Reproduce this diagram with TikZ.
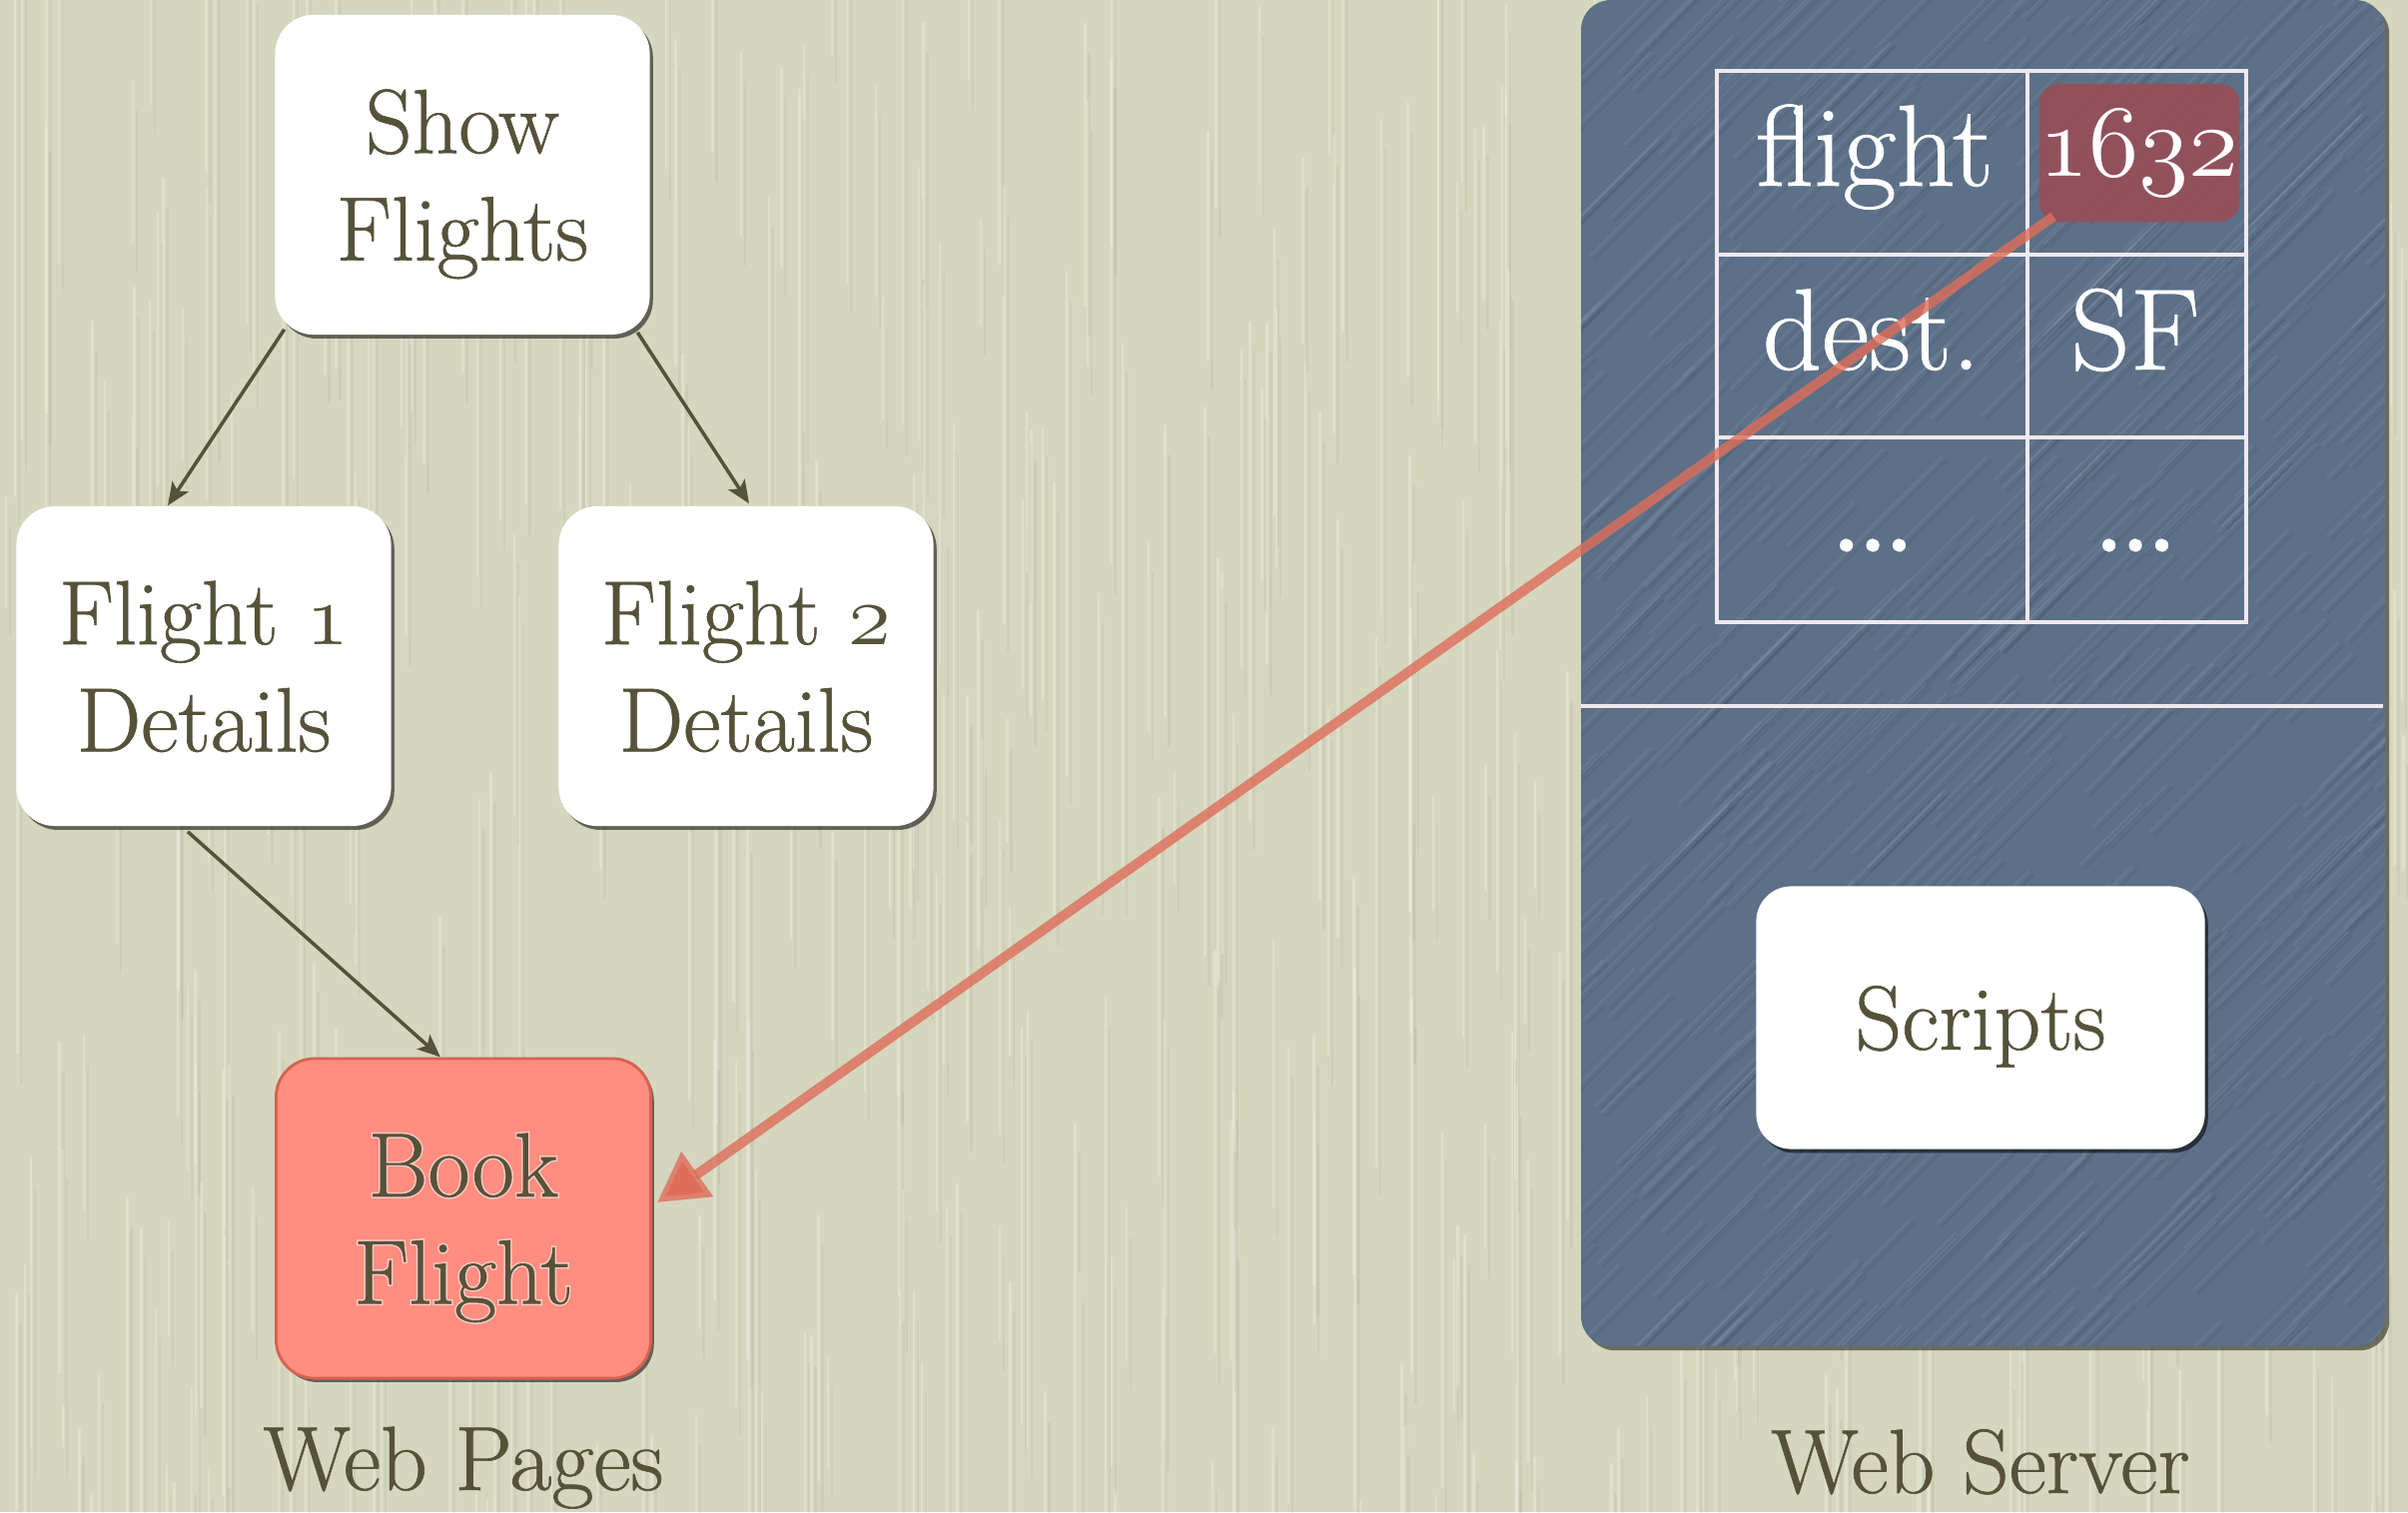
\documentclass[tikz,border=0pt]{standalone}
\usepackage{fontspec}
\setmainfont{Latin Modern Roman}[FakeBold=0.7]
\usetikzlibrary{arrows.meta,shadows}

\definecolor{paper}{RGB}{213,214,190}
\definecolor{ink}{RGB}{86,82,58}
\definecolor{slate}{RGB}{92,112,136}
\definecolor{salmon}{RGB}{255,141,128}
\definecolor{salmonedge}{RGB}{214,98,80}
\definecolor{cellred}{RGB}{150,78,88}
\definecolor{linkred}{RGB}{222,110,90}
\definecolor{gridline}{RGB}{240,232,238}

% old-style figures taken from the Latin Modern math italic font
\newcommand\osnum[1]{{\usefont{OML}{lmm}{m}{it}#1}}
% three wide, round dots for the elided table rows
\newcommand\moredots{{\fontsize{42}{42}\selectfont.\kern-3pt.\kern-3pt.}}

\tikzset{
  pagebox/.style={fill=white, rounded corners=11pt, align=center, text=ink,
    minimum width=3.75cm, minimum height=3.2cm, inner sep=0pt, text depth=0pt,
    font=\fontsize{26}{30.5}\selectfont,
    drop shadow={shadow xshift=0.9pt, shadow yshift=-1.1pt, opacity=0.55, fill=black}},
  glow/.style={align=center, inner sep=0pt, text depth=0pt, text=white, text opacity=0.55,
    font=\fontsize{26}{30.5}\selectfont\addfontfeatures{FakeBold=4}},
  groupname/.style={text=ink, inner sep=0pt, font=\fontsize{26}{30.5}\selectfont},
  cell/.style={text=white, inner sep=0pt, font=\fontsize{33}{38}\selectfont},
  hilite/.style={fill=cellred, fill opacity=0.9, text opacity=1, text=white,
    rounded corners=5.5pt, minimum width=1.94cm, minimum height=1.38cm,
    inner sep=0pt, font=\fontsize{24}{28}\selectfont},
  tree/.style={draw=ink, line width=1pt, -{Stealth[length=6.5pt,width=5.5pt,inset=1.5pt]}},
  link/.style={draw=linkred, draw opacity=0.8, line width=2.8pt,
    -{Triangle[length=14pt,width=15pt]}},
  fibre/.style={line width=0.7pt, line cap=round},
}

\begin{document}
\begin{tikzpicture}[x=0.01cm,y=-0.01cm]
\useasboundingbox (0,0) rectangle (2411,1514);
\fill[paper] (0,0) rectangle (2411,1514);

% paper grain: faint vertical fibres
\pgfmathsetseed{42}
\foreach \k in {1,...,420}{
  \pgfmathsetmacro\fx{rnd*2411}
  \pgfmathsetmacro\fy{rnd*1700-150}
  \pgfmathsetmacro\fl{100+rnd*450}
  \draw[fibre, white, opacity=0.22] (\fx,\fy) -- ++(0,\fl);
  \draw[fibre, black, opacity=0.035] (\fx+4,\fy+30) -- ++(0,\fl);
}

% server panel
\path[fill=slate, rounded corners=8.5pt,
  drop shadow={shadow xshift=1.2pt, shadow yshift=-1.2pt, opacity=0.5, fill=black}]
  (1583,0) rectangle (2388,1348);
\begin{scope}
  \clip[rounded corners=8.5pt] (1583,0) rectangle (2388,1348);
  \foreach \k in {1,...,600}{
    \pgfmathsetmacro\gx{1480+rnd*1000}
    \pgfmathsetmacro\gy{rnd*1500}
    \pgfmathsetmacro\gl{40+rnd*140}
    \draw[fibre, white, opacity=0.06] (\gx,\gy) -- ++(\gl,-\gl);
    \draw[fibre, black, opacity=0.05] (\gx+5,\gy+3) -- ++(\gl,-\gl);
  }
\end{scope}
\draw[gridline, line width=1.2pt] (1583,707) -- (2386,707);

% data table
\draw[gridline, line width=1.1pt] (1719,71) rectangle (2249,623);
\draw[gridline, line width=1.1pt] (2030,71) -- (2030,623);
\draw[gridline, line width=1.1pt] (1719,255) -- (2249,255);
\draw[gridline, line width=1.1pt] (1719,438) -- (2249,438);

\node[cell, anchor=base] (kflight) at (1877,186) {flight};
\node[hilite] (hl) at (2142,153) {\scalebox{1.17}{\osnum{1632}}};
\node[cell, anchor=base] (kdest) at (1874,370) {dest.};
\node[cell, anchor=base] (vdest) at (2138,370) {SF};
\node[cell] (kmore) at (1875,546) {\moredots};
\node[cell] (vmore) at (2138,546) {\moredots};

% scripts block
\node[pagebox, minimum width=4.49cm, minimum height=2.63cm, rounded corners=10pt]
  (scripts) at (1983,1019) {Scripts};

% web pages
\node[pagebox] (show) at (463,175) {Show\\Flights};
\node[pagebox] (f1) at (204,667) {Flight \osnum{1}\\Details};
\node[pagebox] (f2) at (747,667) {Flight \osnum{2}\\Details};
\node[pagebox, fill=salmon, draw=salmonedge, line width=0.8pt] (book) at (464,1220) {\phantom{Book}\\\phantom{Flight}};
\node[glow] (bookglow) at (book.center) {Book\\Flight};
\node[glow, text=ink, text opacity=1, font=\fontsize{26}{30.5}\selectfont] (booktext) at (book.center) {Book\\Flight};

\draw[tree] ([shift={(10,-6)}]show.south west) -- ([shift={(-36,0)}]f1.north);
\draw[tree] ([shift={(-13,-3)}]show.south east) -- ([shift={(3,-2)}]f2.north);
\draw[tree] ([shift={(-16,5)}]f1.south) -- ([shift={(-23,0)}]book.north);

% link from the stored value back to the booking page
\draw[link] ([shift={(15,-6)}]hl.south west) -- ([shift={(5,-16)}]book.east);

% group names
\node[groupname, anchor=base] (wp) at (464,1492) {Web Pages};
\node[groupname, anchor=base] (ws) at (1983,1495) {Web Server};
\end{tikzpicture}
\end{document}
